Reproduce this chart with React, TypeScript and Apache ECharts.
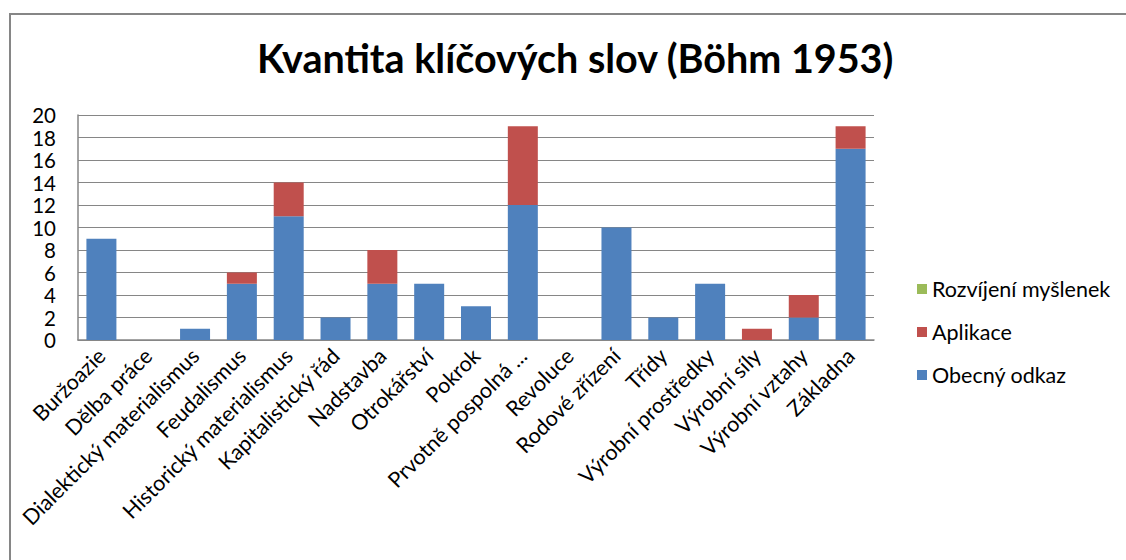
import React, { useEffect, useRef } from "react";
import * as echarts from "echarts";

const titleText = "Kvantita klíčových slov (Böhm 1953)";
const categories = [
  "Buržoazie",
  "Dělba práce",
  "Dialektický materialismus",
  "Feudalismus",
  "Historický materialismus",
  "Kapitalistický řád",
  "Nadstavba",
  "Otrokářství",
  "Pokrok",
  "Prvotně pospolná ...",
  "Revoluce",
  "Rodové zřízení",
  "Třídy",
  "Výrobní prostředky",
  "Výrobní síly",
  "Výrobní vztahy",
  "Základna",
];
const obecnyOdkaz = [9, 0, 1, 5, 11, 2, 5, 5, 3, 12, 0, 10, 2, 5, 0, 2, 17];
const aplikace = [0, 0, 0, 1, 3, 0, 3, 0, 0, 7, 0, 0, 0, 0, 1, 2, 2];
const rozvijeni = [0, 0, 0, 0, 0, 0, 0, 0, 0, 0, 0, 0, 0, 0, 0, 0, 0];
const seriesNames = ["Obecný odkaz", "Aplikace", "Rozvíjení myšlenek"];
const legendOrder = ["Rozvíjení myšlenek", "Aplikace", "Obecný odkaz"];
const colors = ["#4F81BD", "#C0504D", "#9BBB59"];

const FONT = "Lato, 'Open Sans', sans-serif";

export default function App() {
  const ref = useRef<HTMLDivElement>(null);
  useEffect(() => {
    if (!ref.current) return;
    const chart = echarts.init(ref.current, null, { renderer: "svg" });
    const dataSets = [obecnyOdkaz, aplikace, rozvijeni];
    chart.setOption({
      animation: false,
      backgroundColor: "#ffffff",
      textStyle: { fontFamily: FONT },
      title: {
        text: titleText,
        left: 252,
        top: 32,
        textStyle: {
          fontFamily: FONT,
          fontSize: 39.5,
          fontWeight: "bold",
          color: "#000000",
        },
      },
      graphic: [
        {
          type: "polyline",
          shape: { points: [[10, 600], [10, 14], [1200, 14]] },
          style: { stroke: "#868686", lineWidth: 2, fill: "none" },
          silent: true,
        },
      ],
      legend: {
        data: legendOrder,
        orient: "vertical",
        left: 912,
        top: 273,
        itemWidth: 10,
        itemHeight: 10,
        itemGap: 21,
        icon: "rect",
        textStyle: { fontFamily: FONT, fontSize: 21.5, color: "#000", lineHeight: 22 },
      },
      grid: { left: 78, right: 252, top: 115, bottom: 220, containLabel: false },
      xAxis: {
        type: "category",
        data: categories,
        axisLine: { lineStyle: { color: "#868686", width: 1.5 } },
        axisTick: { show: false },
        axisLabel: {
          rotate: 45,
          interval: 0,
          margin: 12,
          fontFamily: FONT,
          fontSize: 21.5,
          color: "#000",
        },
      },
      yAxis: {
        type: "value",
        min: 0,
        max: 20,
        interval: 2,
        axisLine: { show: true, lineStyle: { color: "#868686", width: 1.5 } },
        axisTick: { show: false },
        splitLine: { lineStyle: { color: "#868686", width: 1 } },
        axisLabel: { fontFamily: FONT, fontSize: 20.5, color: "#000", margin: 22 },
      },
      series: seriesNames.map((name, i) => ({
        name,
        type: "bar",
        stack: "total",
        barWidth: 30,
        data: dataSets[i],
        itemStyle: { color: colors[i] },
      })),
    });
    return () => chart.dispose();
  }, []);
  return (
    <div
      ref={ref}
      style={{ position: "absolute", left: 0, top: 0, width: 1126, height: 560 }}
    />
  );
}
